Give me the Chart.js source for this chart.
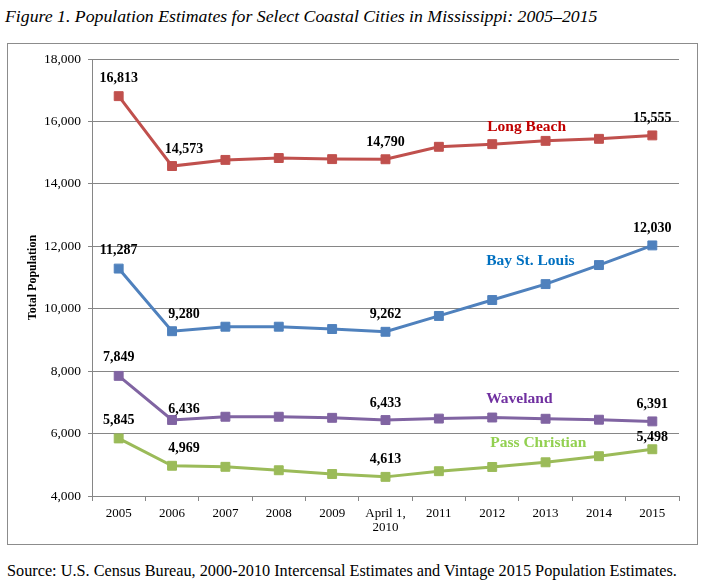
<!DOCTYPE html>
<html>
<head>
<meta charset="utf-8">
<script src="https://cdn.jsdelivr.net/npm/chart.js@4"></script>
<style>
  html, body { margin: 0; padding: 0; background: #fff; }
  body { width: 702px; height: 585px; position: relative; overflow: hidden; font-family: "Liberation Serif", "Times New Roman", serif; }
  #title { position: absolute; left: 5px; top: 6px; font-size: 17.75px; font-style: italic; color: #000; white-space: nowrap; }
  #box { position: absolute; left: 7px; top: 43px; width: 689px; height: 500px; border: 1px solid #8c8c8c; }
  #box canvas { display: block; }
  #source { position: absolute; left: 7px; top: 562px; font-size: 16.25px; color: #000; white-space: nowrap; }
</style>
</head>
<body>
<div id="title">Figure 1. Population Estimates for Select Coastal Cities in Mississippi: 2005–2015</div>
<div id="box"><canvas id="c" width="689" height="500"></canvas></div>
<div id="source">Source: U.S. Census Bureau, 2000-2010 Intercensal Estimates and Vintage 2015 Population Estimates.</div>
<script>
const categories = ['2005', '2006', '2007', '2008', '2009', ['April 1,', '2010'], '2011', '2012', '2013', '2014', '2015'];
const seriesNames = ['Long Beach', 'Bay St. Louis', 'Waveland', 'Pass Christian'];
const longBeach = [16813, 14573, 14770, 14830, 14795, 14790, 15190, 15275, 15380, 15445, 15555];
const bayStLouis = [11287, 9280, 9425, 9425, 9350, 9262, 9770, 10280, 10790, 11400, 12030];
const waveland = [7849, 6436, 6540, 6540, 6505, 6433, 6480, 6515, 6475, 6445, 6391];
const passChristian = [5845, 4969, 4935, 4825, 4705, 4613, 4795, 4930, 5080, 5275, 5498];
const yTicks = [4000, 6000, 8000, 10000, 12000, 14000, 16000, 18000];
const labeledIndices = [0, 1, 5, 10];

const lineColors = ['#C0504D', '#4F81BD', '#8064A2', '#9BBB59'];
const nameColors = ['#C00000', '#0070C0', '#7030A0', '#92D050'];
// series-name label anchor: category index and value for vertical placement
const nameAnchors = [
  { idx: 7, value: 15830, dx: -5 },
  { idx: 7, value: 11530, dx: -6 },
  { idx: 7, value: 7105, dx: -6 },
  { idx: 7, value: 5695, dx: -2 }
];
// per-label pixel offsets (dx, dy above point) by labeled index position
const labelOffsets = {
  0: [0, 18], 1: [12, 17], 5: [0, 17], 10: [0, 17]
};
const specialDy = { '2-1': 11, '3-10': 12 };

const seriesData = [longBeach, bayStLouis, waveland, passChristian];

const labelPlugin = {
  id: 'labels',
  afterDatasetsDraw(chart) {
    const ctx = chart.ctx;
    ctx.save();
    ctx.textBaseline = 'middle';
    chart.data.datasets.forEach((ds, di) => {
      const meta = chart.getDatasetMeta(di);
      ctx.fillStyle = '#000';
      ctx.font = 'bold 14px "Liberation Serif", serif';
      ctx.textAlign = 'center';
      labeledIndices.forEach(i => {
        const pt = meta.data[i];
        const off = labelOffsets[i];
        const dy = specialDy[di + '-' + i] !== undefined ? specialDy[di + '-' + i] : off[1];
        ctx.fillText(ds.data[i].toLocaleString('en-US'), pt.x + off[0], pt.y - dy);
      });
      const a = nameAnchors[di];
      const xs = chart.scales.x, ys = chart.scales.y;
      ctx.font = 'bold 15.5px "Liberation Serif", serif';
      ctx.textAlign = 'left';
      ctx.fillStyle = nameColors[di];
      ctx.fillText(ds.label, xs.getPixelForValue(a.idx) + a.dx, ys.getPixelForValue(a.value));
    });
    ctx.restore();
  }
};

new Chart(document.getElementById('c'), {
  type: 'line',
  data: {
    labels: categories,
    datasets: seriesData.map((d, i) => ({
      label: seriesNames[i],
      data: d,
      borderColor: lineColors[i],
      backgroundColor: lineColors[i],
      borderWidth: 3,
      pointStyle: 'rect',
      pointRadius: 6.3,
      pointBorderWidth: 1,
      pointBorderColor: lineColors[i],
      pointBackgroundColor: lineColors[i],
      tension: 0,
      fill: false
    }))
  },
  options: {
    responsive: false,
    animation: false,
    devicePixelRatio: 1,
    layout: { padding: { top: 15, right: 18, left: 0, bottom: 0 } },
    plugins: { legend: { display: false }, tooltip: { enabled: false }, title: { display: false } },
    scales: {
      x: {
        type: 'category',
        offset: true,
        grid: { offset: true, drawOnChartArea: false, drawTicks: true, tickLength: 5, color: '#868686' },
        border: { color: '#868686', width: 1 },
        ticks: { color: '#000', font: { family: '"Liberation Serif", serif', size: 13, lineHeight: 1.1 }, padding: 5, maxRotation: 0, autoSkip: false },
        afterFit(s) { s.height = 48; }
      },
      y: {
        min: 4000, max: 18000,
        afterBuildTicks(s) { s.ticks = yTicks.map(v => ({ value: v })); },
        grid: { color: '#868686', lineWidth: 1, tickLength: 4, drawTicks: true },
        border: { color: '#868686', width: 1 },
        ticks: { color: '#000', font: { family: '"Liberation Serif", serif', size: 13.5 }, padding: 7,
                 callback: v => v.toLocaleString('en-US') },
        title: { display: true, text: 'Total Population', color: '#000', font: { family: '"Liberation Serif", serif', size: 12, weight: 'bold' }, padding: { top: 18, bottom: 0 } },
        afterFit(s) { s.width = 84; }
      }
    }
  },
  plugins: [labelPlugin]
});
</script>
</body>
</html>
